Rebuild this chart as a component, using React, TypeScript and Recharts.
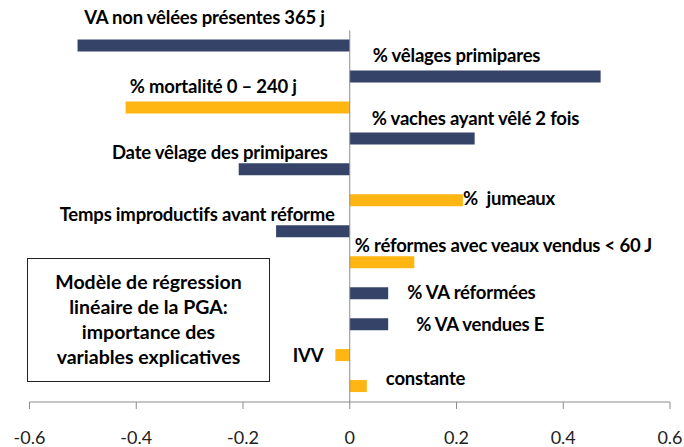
import React from "react";
import { BarChart, Bar, XAxis, YAxis, Cell, LabelList, ReferenceLine } from "recharts";

// variables of the PGA regression model, top to bottom
const variables = [
  "VA non vêlées présentes 365 j",
  "% vêlages primipares",
  "% mortalité 0 – 240 j",
  "% vaches ayant vêlé 2 fois",
  "Date vêlage des primipares",
  "%  jumeaux",
  "Temps improductifs avant réforme",
  "% réformes avec veaux vendus < 60 J",
  "% VA réformées",
  "% VA vendues E",
  "IVV",
  "constante",
];
const importance = [-0.51, 0.47, -0.42, 0.234, -0.208, 0.212, -0.138, 0.121, 0.072, 0.072, -0.027, 0.032];
const orangeGroup = [false, false, true, false, false, true, false, true, false, false, true, true];
const xTicks = [-0.6, -0.4, -0.2, 0, 0.2, 0.4, 0.6];

const NAVY = "#354369";
const ORANGE = "#FFB612";
const FONT = "Lato, 'Liberation Sans', sans-serif";

// label placement: mode, horizontal gap, vertical offset
const labelLayout: [string, number, number][] = [
  ["above", 25, 23],
  ["above", 23, 15],
  ["above", 53, 15],
  ["above", 22, 14],
  ["above", 22, 11],
  ["side", 0, -2],
  ["above", 15, 11],
  ["above", 5, 11],
  ["side", 19, -1],
  ["side", 28, 0],
  ["side", 12, 0],
  ["side", 19, -8],
];

const data = variables.map((name, i) => ({ name, value: importance[i], orange: orangeGroup[i] }));

const renderLabel = (props: any) => {
  const { x, y, width, height, value } = props;
  const idx = variables.indexOf(value);
  if (idx < 0) return null;
  const [mode, gap, off] = labelLayout[idx];
  const neg = importance[idx] < 0;
  const left = Math.min(x, x + width);
  const right = Math.max(x, x + width);
  const top = Math.min(y, y + height);
  const h = Math.abs(height);
  let tx: number;
  let ty: number;
  if (mode === "above") {
    tx = neg ? right - gap : left + gap;
    ty = top - off;
  } else {
    tx = neg ? left - gap : right + gap;
    ty = top + h / 2 + off;
  }
  return (
    <text x={tx} y={ty} textAnchor={neg ? "end" : "start"} dominantBaseline="central"
      fontFamily={FONT} fontWeight={700} fontSize={18.5} fill="#000"
      style={{ whiteSpace: "pre", letterSpacing: -0.2 }}>
      {value}
    </text>
  );
};

export default function App() {
  return (
    <div style={{ position: "absolute", left: 0, top: 0, width: 684, height: 447, background: "#fff" }}>
      <BarChart width={684} height={447} data={data} layout="vertical"
        margin={{ top: 30.5, right: 14, bottom: 0, left: 29.5 }}>
        <XAxis type="number" domain={[-0.6, 0.6]} ticks={xTicks} height={45}
          tickFormatter={(v: number) => (v === 0 ? "0" : v.toFixed(1))}
          stroke="#8c8c8c" tickSize={7} tickMargin={22}
          tick={{ fill: "#222", fontSize: 18, fontFamily: FONT }} />
        <YAxis type="category" dataKey="name" hide />
        <ReferenceLine x={0} stroke="#8c8c8c" strokeWidth={1} />
        <Bar dataKey="value" barSize={12} isAnimationActive={false}>
          {data.map((d, i) => <Cell key={i} fill={d.orange ? ORANGE : NAVY} />)}
          <LabelList dataKey="name" content={renderLabel} />
        </Bar>
      </BarChart>
      <div style={{
        position: "absolute", left: 27, top: 258, width: 243, height: 124, boxSizing: "border-box",
        border: "1.5px solid #222", background: "#fff", fontFamily: FONT, fontWeight: 700,
        fontSize: 19.5, lineHeight: "25px", textAlign: "center", paddingTop: 10, color: "#000",
      }}>
        <div>Modèle de régression</div>
        <div>linéaire de la PGA:</div>
        <div>importance des</div>
        <div>variables explicatives</div>
      </div>
    </div>
  );
}
